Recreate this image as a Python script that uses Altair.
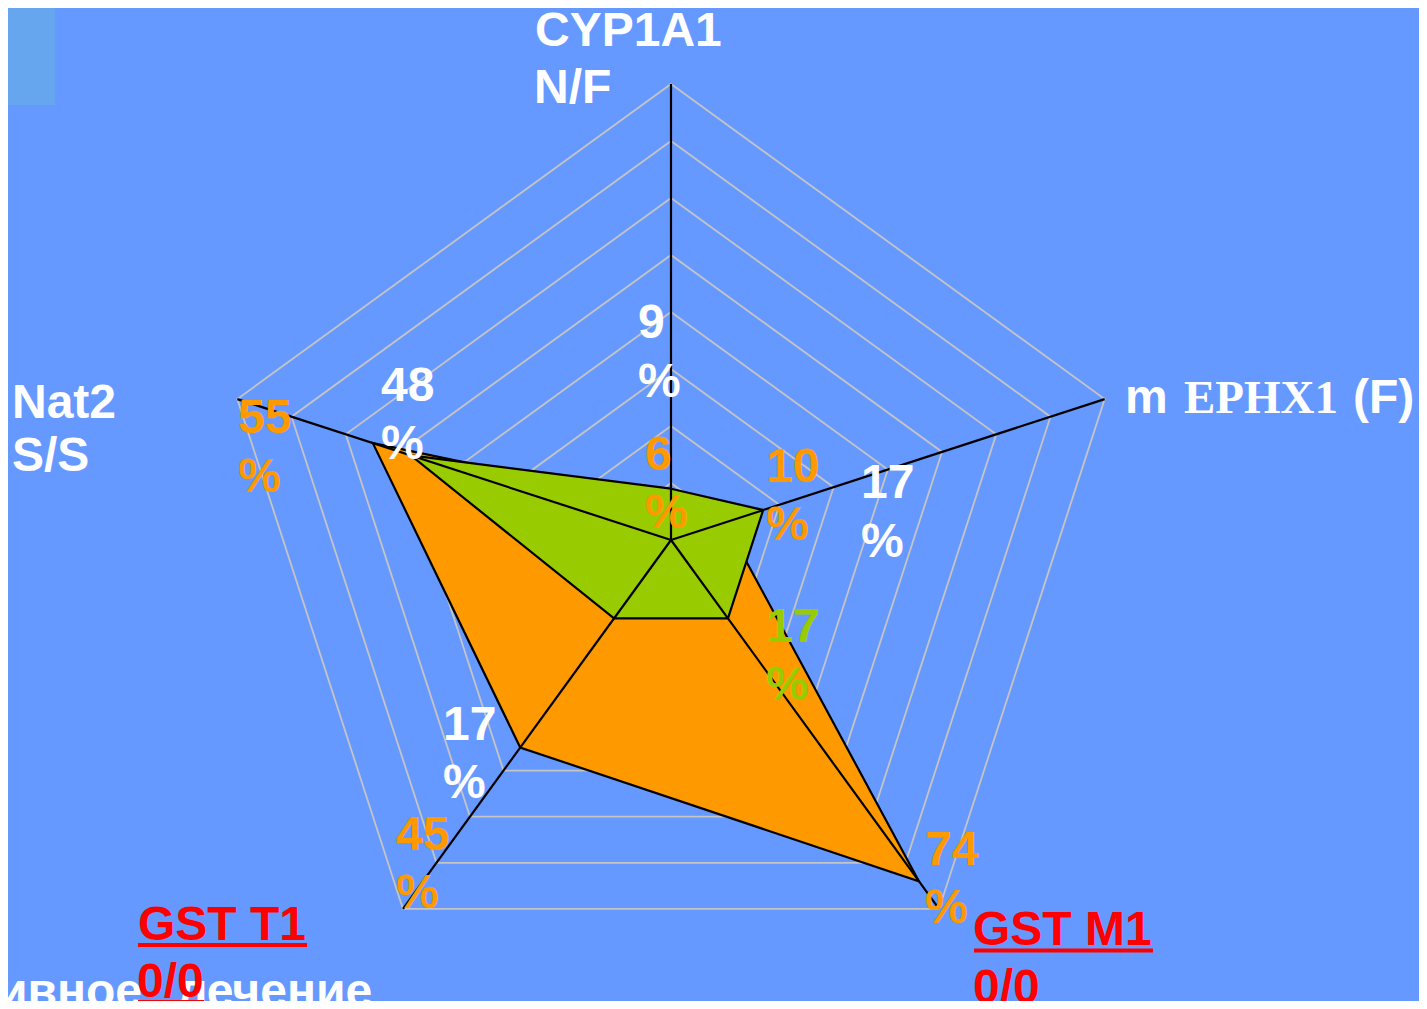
import math
import altair as alt
import pandas as pd

# ---------------- data ----------------
categories = ["CYP1A1 N/F", "m EPHX1 (F)", "GST M1 0/0", "GST T1 0/0", "Nat2 S/S"]
orange_values = [6, 10, 74, 45, 55]
green_values = [9, 17, 17, 17, 48]
green_label_colors = ["white", "white", "#99CC00", "white", "white"]
ring_levels = [10, 20, 30, 40, 50, 60, 70, 80]
axis_max = 80

BG = "#6699FF"
ORANGE = "#FF9900"
GREEN = "#99CC00"
RED = "#FF0000"
GRID = "#C4C4C4"

# ---------------- layout ----------------
W, H = 1411, 993          # plot area (page minus 8px margins)
CX, CY = 663, 532         # centre of the radar inside the plot area (px)
K = 456 / axis_max        # px per unit


def polar(v, i):
    a = math.radians(72 * i)
    return v * math.sin(a), v * math.cos(a)


def page(px, py):
    """page pixel -> data units"""
    return (px - 8 - CX) / K, (CY - (py - 8)) / K


xs = alt.Scale(domain=[-CX / K, (W - CX) / K], nice=False, zero=False)
ys = alt.Scale(domain=[-(H - CY) / K, CY / K], nice=False, zero=False)


def X(f="x"):
    return alt.X(f"{f}:Q", scale=xs, axis=None)


def Y(f="y"):
    return alt.Y(f"{f}:Q", scale=ys, axis=None)


# grid rings
ring_rows = []
for lv in ring_levels:
    for k in range(6):
        x, y = polar(lv, k % 5)
        ring_rows.append({"ring": lv, "idx": k, "x": x, "y": y})
rings_df = pd.DataFrame(ring_rows)

# spokes
spoke_rows = []
for i, c in enumerate(categories):
    x, y = polar(axis_max, i)
    spoke_rows.append({"cat": c, "x": 0.0, "y": 0.0, "x2": x, "y2": y})
spokes_df = pd.DataFrame(spoke_rows)


def poly_df(values):
    rows = []
    for k in range(6):
        x, y = polar(values[k % 5], k % 5)
        rows.append({"idx": k, "x": x, "y": y})
    return pd.DataFrame(rows)


# value labels: anchor (page px, left) and baselines of number / percent
green_anchor = [(638, 338, 397), (861, 498, 557), (766, 642, 700), (443, 740, 798), (381, 401, 459)]
orange_anchor = [(645, 470, 528), (766, 482, 540), (925, 865, 923), (396, 850, 908), (238, 433, 492)]

val_rows = []
for vals, anchors, cols in [
    (green_values, green_anchor, green_label_colors),
    (orange_values, orange_anchor, [ORANGE] * 5),
]:
    for v, (ax, nb, pb), col in zip(vals, anchors, cols):
        x1, y1 = page(ax, nb)
        x2, y2 = page(ax, pb)
        val_rows.append({"text": str(v), "x": x1, "y": y1, "color": col})
        val_rows.append({"text": "%", "x": x2, "y": y2, "color": col})

# axis / category labels
sans_labels = [
    ("CYP1A1", 535, 46, "white"),
    ("N/F", 534, 103, "white"),
    ("m", 1125, 413, "white"),
    ("(F)", 1353, 413, "white"),
    ("Nat2", 12, 418, "white"),
    ("S/S", 12, 471, "white"),
    ("ивное", -2, 1007, "white"),
    ("лечение", 177, 1007, "white"),
    ("GST T1", 138, 940, RED),
    ("0/0", 137, 997, RED),
    ("GST M1", 973, 945, RED),
    ("0/0", 973, 1003, RED),
]
serif_labels = [("EPHX1", 1184, 413, "white")]

for t, px, py, col in sans_labels:
    x, y = page(px, py)
    val_rows.append({"text": t, "x": x, "y": y, "color": col})
text_df = pd.DataFrame(val_rows)

serif_rows = []
for t, px, py, col in serif_labels:
    x, y = page(px, py)
    serif_rows.append({"text": t, "x": x, "y": y, "color": col})
serif_df = pd.DataFrame(serif_rows)

underlines = [(138, 307, 945), (138, 204, 1002), (974, 1153, 950.5), (974, 1042, 1007.5)]
ul_rows = []
for a, b, py in underlines:
    x1, y1 = page(a, py)
    x2, _ = page(b, py)
    ul_rows.append({"x": x1, "x2": x2, "y": y1})
ul_df = pd.DataFrame(ul_rows)

# ---------------- layers ----------------
corner = alt.Chart(pd.DataFrame({"a": [0]})).mark_rect(color="#66A6EE").encode(
    x=alt.value(0), x2=alt.value(47), y=alt.value(0), y2=alt.value(97)
)

rings = alt.Chart(rings_df).mark_line(stroke=GRID, strokeWidth=1.8).encode(
    x=X(), y=Y(), detail="ring:N", order="idx:Q"
)

orange_poly = alt.Chart(poly_df(orange_values)).mark_line(
    fill=ORANGE, stroke="black", strokeWidth=2.2, strokeJoin="miter"
).encode(x=X(), y=Y(), order="idx:Q")

green_poly = alt.Chart(poly_df(green_values)).mark_line(
    fill=GREEN, stroke="black", strokeWidth=2.2, strokeJoin="miter"
).encode(x=X(), y=Y(), order="idx:Q")

spokes = alt.Chart(spokes_df).mark_rule(color="black", strokeWidth=2.2).encode(
    x=X(), y=Y(), x2="x2:Q", y2="y2:Q"
)

texts = alt.Chart(text_df).mark_text(
    align="left", baseline="alphabetic", font="Liberation Sans", fontWeight="bold", fontSize=48
).encode(x=X(), y=Y(), text="text:N", color=alt.Color("color:N", scale=None))

serif_texts = alt.Chart(serif_df).mark_text(
    align="left", baseline="alphabetic", font="Liberation Serif", fontWeight="bold", fontSize=47
).encode(x=X(), y=Y(), text="text:N", color=alt.Color("color:N", scale=None))

ul = alt.Chart(ul_df).mark_rule(color=RED, strokeWidth=4).encode(
    x=X(), x2="x2:Q", y=Y()
)

chart = alt.layer(
    corner, rings, orange_poly, green_poly, spokes, texts, serif_texts, ul
).properties(
    width=W, height=H, padding=0, autosize="none", background=BG
).configure_view(stroke=None)

chart.save("out.html", embed_options={"renderer": "svg", "actions": False})
